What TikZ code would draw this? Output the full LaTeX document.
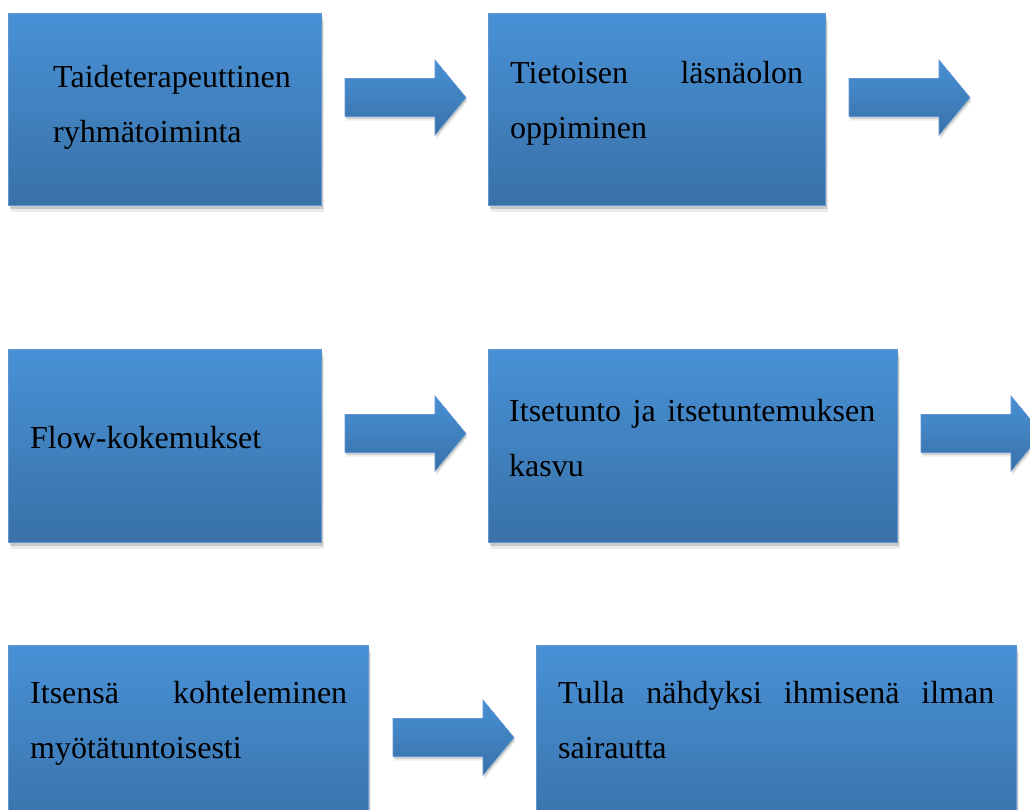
\documentclass[tikz,border=0pt]{standalone}
\usepackage{fontspec}
\setmainfont{Liberation Serif}
\usetikzlibrary{shadows,calc}
\definecolor{topblue}{RGB}{72,145,214}
\definecolor{botblue}{RGB}{57,113,168}
\definecolor{edgeblue}{RGB}{96,150,208}
\tikzset{
  box/.style={rectangle, anchor=north west, inner sep=0pt, draw=edgeblue, line width=1pt,
    top color=topblue, bottom color=botblue,
    drop shadow={shadow xshift=2pt, shadow yshift=-6pt, opacity=0.08, fill=black},
    drop shadow={shadow xshift=1pt, shadow yshift=-3pt, opacity=0.15, fill=black}},
  arrowshape/.style={draw=edgeblue, line width=0.6pt, top color=topblue, bottom color=botblue,
    drop shadow={shadow xshift=1.5pt, shadow yshift=-4pt, opacity=0.08, fill=black},
    drop shadow={shadow xshift=1pt, shadow yshift=-2pt, opacity=0.14, fill=black}},
  txt/.style={anchor=base west, inner sep=0pt, text=black,
    font=\fontsize{32pt}{55pt}\selectfont}
}
\newcommand\blockarrow[1]{%
  \path[arrowshape, shift={#1}] (0,-19) -- (90,-19) -- (90,-37.5) -- (121,0)
     -- (90,37.5) -- (90,19) -- (0,19) -- cycle;}
\begin{document}
\begin{tikzpicture}[x=1pt,y=-1pt]
\useasboundingbox (0,0) rectangle (1030,809);
\fill[white] (0,0) rectangle (1030,809);
\clip (0,0) rectangle (1030,809);
% boxes
\node[box, minimum width=313pt, minimum height=192pt] (b1) at (8,13) {};
\node[box, minimum width=337pt, minimum height=192pt] (b2) at (488,13) {};
\node[box, minimum width=313pt, minimum height=193pt] (b3) at (8,349) {};
\node[box, minimum width=409pt, minimum height=193pt] (b4) at (488,349) {};
\node[box, minimum width=360pt, minimum height=193pt] (b5) at (8,645) {};
\node[box, minimum width=480pt, minimum height=193pt] (b6) at (536,645) {};
% texts
\node[txt] (t1) at (53,87) {\parbox[t]{300pt}{Taideterapeuttinen\\ryhmätoiminta}};
\node[txt] (t2) at (510,83) {\parbox[t]{293pt}{\makebox[293pt][s]{Tietoisen läsnäolon}\\oppiminen}};
\node[txt] (t3) at (30,448) {Flow-kokemukset};
\node[txt] (t4) at (509,421) {\parbox[t]{366pt}{\makebox[366pt][s]{Itsetunto ja itsetuntemuksen}\\kasvu}};
\node[txt] (t5) at (30,703) {\parbox[t]{317pt}{\makebox[317pt][s]{Itsensä kohteleminen}\\myötätuntoisesti}};
\node[txt] (t6) at (558,703) {\parbox[t]{436pt}{\makebox[436pt][s]{Tulla nähdyksi ihmisenä ilman}\\sairautta}};
% block arrows
\blockarrow{($(b1.east)+(23,-12)$)}
\blockarrow{($(b2.east)+(23,-12)$)}
\blockarrow{($(b3.east)+(23,-12.5)$)}
\blockarrow{($(b4.east)+(23,-12.5)$)}
\blockarrow{($(b5.east)+(24,-4.5)$)}
\end{tikzpicture}
\end{document}
